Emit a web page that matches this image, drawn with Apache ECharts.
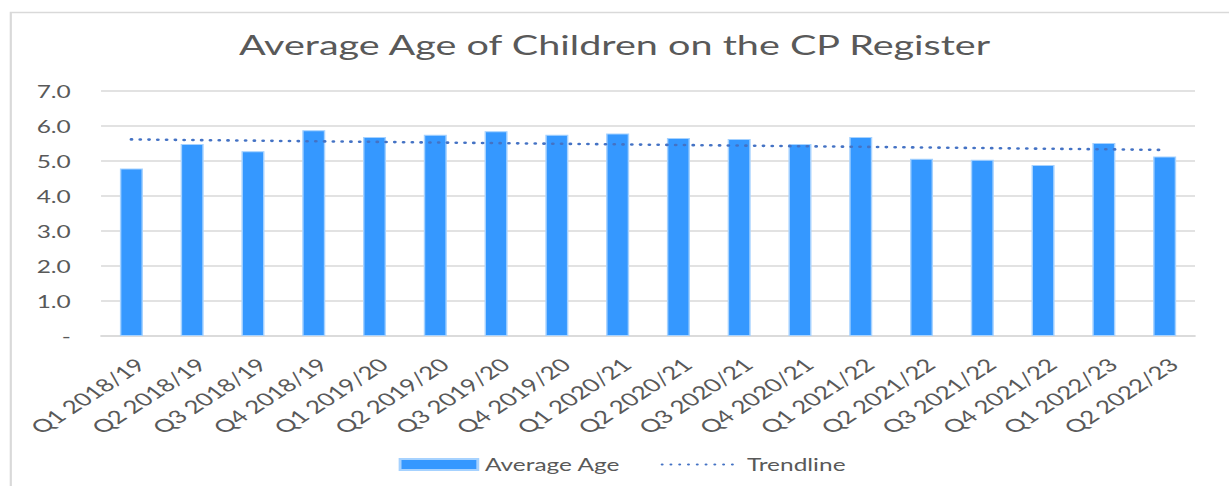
<!DOCTYPE html>
<html>
<head>
<meta charset="utf-8">
<script src="https://cdn.jsdelivr.net/npm/echarts@6/dist/echarts.min.js"></script>
<style>
    html, body { margin: 0; padding: 0; background: #fff; overflow: hidden; }
    /* the source picture is a horizontally stretched Excel chart, so draw narrow and stretch */
    #main { width: 854px; height: 486px; transform: scaleX(1.4391); transform-origin: 0 0; }
</style>
</head>
<body>
<div id="main"></div>
<script>
// 数据
var quarters = ['Q1 2018/19', 'Q2 2018/19', 'Q3 2018/19', 'Q4 2018/19',
    'Q1 2019/20', 'Q2 2019/20', 'Q3 2019/20', 'Q4 2019/20',
    'Q1 2020/21', 'Q2 2020/21', 'Q3 2020/21', 'Q4 2020/21',
    'Q1 2021/22', 'Q2 2021/22', 'Q3 2021/22', 'Q4 2021/22',
    'Q1 2022/23', 'Q2 2022/23'];
var averageAge = [4.78, 5.48, 5.27, 5.87, 5.68, 5.74, 5.84, 5.74, 5.78,
    5.65, 5.62, 5.48, 5.68, 5.06, 5.03, 4.88, 5.51, 5.12];
// trendline only known at its two ends, the line joins them
var trendline = [5.61, null, null, null, null, null, null, null, null,
    null, null, null, null, null, null, null, null, 5.31];
var yLabels = ['-', '1.0', '2.0', '3.0', '4.0', '5.0', '6.0', '7.0'];

var font = 'Lato';
var grey = '#595959';

var myChart = echarts.init(document.getElementById('main'), null, {renderer: 'svg'});
var options = {
    animation: false,
    backgroundColor: '#fff',
    title: {
        text: 'Average Age of Children on the CP Register',
        left: 'center',
        top: 25,
        textStyle: {fontFamily: font, fontSize: 27.5, fontWeight: 'normal', color: grey}
    },
    graphic: [{
        type: 'rect',
        left: 5,
        top: 10,
        silent: true,
        shape: {width: 848, height: 500},
        style: {fill: 'none', stroke: '#d9d9d9', lineWidth: 1.5}
    }],
    legend: {
        left: 272,
        top: 451,
        itemWidth: 54,
        itemHeight: 11,
        itemGap: 28,
        textStyle: {fontFamily: font, fontSize: 17, color: grey},
        data: [
            {name: 'Average Age', icon: 'rect'},
            {name: 'Trendline', itemStyle: {opacity: 0}}   // 只要虚线, 不要圆点
        ]
    },
    grid: {
        left: 70.2,
        right: 23.6,
        top: 90.7,
        bottom: 150,
        outerBoundsMode: 'none'
    },
    xAxis: {
        type: 'category',
        data: quarters,
        axisLine: {lineStyle: {color: '#d9d9d9', width: 1.5}},
        axisTick: {show: false},
        axisLabel: {
            interval: 0,
            rotate: 43,
            margin: 19,
            verticalAlign: 'top',
            fontFamily: font,
            fontSize: 18,
            color: grey
        }
    },
    yAxis: {
        type: 'value',
        min: 0,
        max: 7,
        interval: 1,
        axisLine: {show: false},
        axisTick: {show: false},
        splitLine: {lineStyle: {color: '#d9d9d9', width: 1.5}},
        axisLabel: {
            margin: 21,
            fontFamily: font,
            fontSize: 17,
            color: grey,
            formatter: function (v) { return yLabels[Math.round(v)]; }
        }
    },
    series: [
        {
            name: 'Average Age',
            type: 'bar',
            barWidth: 16,
            data: averageAge,
            itemStyle: {color: '#3598ff', borderColor: '#a6d2ff', borderWidth: 1}
        },
        {
            name: 'Trendline',
            type: 'line',
            data: trendline,
            connectNulls: true,
            symbol: 'none',
            z: 5,
            itemStyle: {color: '#4472c4'},
            lineStyle: {color: '#4472c4', width: 2.6, type: [0.1, 6], cap: 'round'}
        }
    ]
};
myChart.setOption(options);
</script>
</body>
</html>
